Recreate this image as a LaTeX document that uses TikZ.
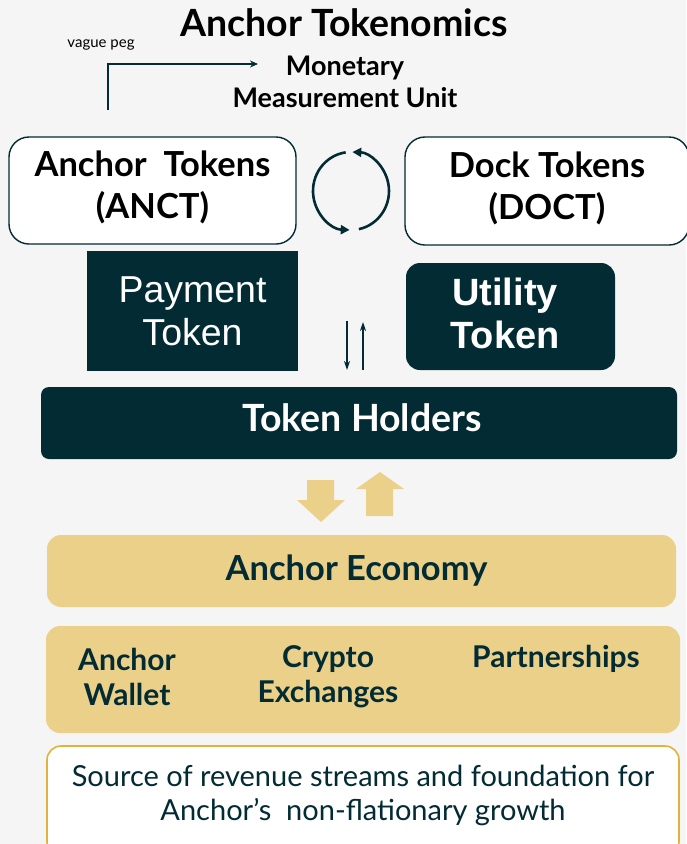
\documentclass[tikz,border=0pt]{standalone}
\usepackage{fontspec}
\setmainfont{Lato}
\newfontfamily\arialfont{Liberation Sans}
\usetikzlibrary{arrows.meta}
\definecolor{bgcol}{HTML}{F5F5F5}
\definecolor{teal}{HTML}{022B33}
\definecolor{gold}{HTML}{EBD08A}
\definecolor{goldline}{HTML}{E2B337}
\begin{document}
\begin{tikzpicture}[x=1pt, y=-1pt, line width=1.4pt,
  tokbox/.style={draw=teal, fill=white, rounded corners=20pt, align=center, text depth=11pt, font=\bfseries\fontsize{34.5}{42}\selectfont, text=black},
  darkbox/.style={fill=teal, align=center, text=white},
  goldbox/.style={fill=gold, rounded corners=14pt, align=center, text=teal, font=\bfseries\fontsize{34.5}{40}\selectfont},
  itemtext/.style={align=center, text=teal, font=\bfseries\fontsize{30}{35}\selectfont},
  blockarrow/.style={fill=gold, draw=none}]
\useasboundingbox (0,0) rectangle (686,844);
\fill[bgcol] (0,0) rectangle (686,844);

% title and measurement unit
\node[font=\bfseries\fontsize{37.5}{42}\selectfont] (title) at (344,23) {Anchor Tokenomics};
\node[font=\fontsize{15}{17}\selectfont] (peg) at (101,45) {vague peg};
\node[align=center, font=\bfseries\fontsize{27}{32}\selectfont] (unit) at (345,82) {Monetary\\Measurement Unit};
\coordinate (pegstart) at (108,110);
\coordinate (pegend) at (258,64);
\draw[teal, line width=1.8pt, -{Stealth[length=8pt,width=7pt]}] (pegstart) |- (pegend);

% token boxes
\node[tokbox, minimum width=287pt, minimum height=107pt] (anct) at (152.5,190.5) {Anchor\ \ Tokens\\(ANCT)};
\node[tokbox, minimum width=284pt, minimum height=108pt] (doct) at (547,191) {Dock Tokens\\(DOCT)};

% exchange cycle
\coordinate (cyc) at (351,191);
\draw[teal, line width=2.6pt, -{Triangle[length=9pt,width=9pt]}] (cyc) ++(98:38pt and 39pt) arc[start angle=98, end angle=268, x radius=38pt, y radius=39pt];
\draw[teal, line width=2.6pt, -{Triangle[length=9pt,width=9pt]}] (cyc) ++(-78:38pt and 39pt) arc[start angle=-78, end angle=88, x radius=38pt, y radius=39pt];

% token roles
\node[darkbox, minimum width=211pt, minimum height=120pt, font=\arialfont\fontsize{37.5}{43}\selectfont] (payment) at (192.5,311) {Payment\\Token};
\node[darkbox, rounded corners=14pt, minimum width=209pt, minimum height=107pt, text depth=6pt, font=\arialfont\bfseries\fontsize{38}{43}\selectfont] (utility) at (510.5,316.5) {Utility\hspace*{11pt}\\Token\hspace*{11pt}};

% holders
\node[darkbox, rounded corners=8pt, minimum width=636pt, minimum height=72pt, text depth=10pt, font=\bfseries\fontsize{37.5}{40}\selectfont] (holders) at (359,423) {\hspace*{6pt}Token Holders};
\coordinate (downtop) at (347,321);
\coordinate (downbot) at (347,370);
\coordinate (uptop) at (363,322);
\coordinate (upbot) at (363,370);
\draw[teal, line width=1.6pt, -{Stealth[length=9pt,width=6pt]}] (downtop) -- (downbot);
\draw[teal, line width=1.6pt, -{Stealth[length=9pt,width=6pt]}] (upbot) -- (uptop);

% flow between holders and economy
\fill[blockarrow] (307,480) -- (334,480) -- (334,500) -- (345,500) -- (321,522) -- (297,500) -- (307,500) -- cycle;
\fill[blockarrow] (366,516) -- (393,516) -- (393,489) -- (404,489) -- (380,472) -- (356,489) -- (366,489) -- cycle;

% economy
\node[goldbox, minimum width=629pt, minimum height=72pt] (economy) at (361.5,571) {Anchor Economy\hspace*{10pt}};
\node[goldbox, minimum width=634pt, minimum height=107pt] (channels) at (363,679.5) {};
\node[itemtext] (wallet) at (127,677) {Anchor\\Wallet};
\node[itemtext] (exchanges) at (328,676.5) {Crypto\\Exchanges};
\node[itemtext] (partners) at (556,659) {Partnerships};

% revenue
\node[draw=goldline, fill=white, rounded corners=14pt, minimum width=632pt, minimum height=110pt, line width=1.6pt, text depth=17pt, text=teal, align=center, font=\fontsize{29}{34}\selectfont] (revenue) at (363,801) {Source of revenue streams and foundation for\\Anchor’s\ \ non-flationary growth};
\end{tikzpicture}
\end{document}
